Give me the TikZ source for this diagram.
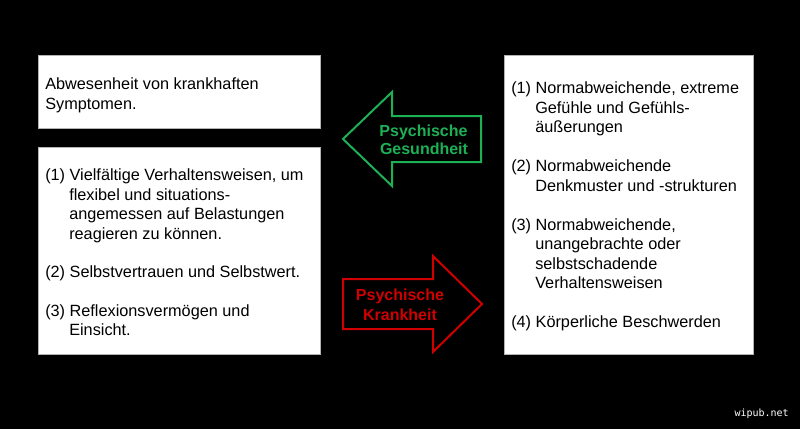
\documentclass[tikz,border=0pt]{standalone}
\usepackage{fontspec}
\setmainfont{Liberation Sans}
\newfontfamily\wmfont{DejaVu Sans Mono}
\definecolor{gruen}{HTML}{1DB055}
\definecolor{rot}{HTML}{D00000}
\begin{document}
\begin{tikzpicture}[x=0.75pt,y=-0.75pt,
  box/.style={draw=gray!60, line width=0.6pt, fill=white},
  txt/.style={anchor=base west, inner sep=0pt, font=\fontsize{12.2}{14.5}\selectfont},
  lbl/.style={anchor=base, inner sep=0pt, font=\fontsize{12}{14.5}\selectfont\bfseries},
  pfeil/.style={line width=1.5pt, fill=black, line join=miter},
  ]
\fill[black] (0,0) rectangle (800,429);
\useasboundingbox (0,0) rectangle (800,429);
% boxes
\draw[box] (38,55) rectangle (320,128);
\draw[box] (38,147) rectangle (320,354);
\draw[box] (504,55) rectangle (753,354);
% box 1
\node[txt] (a1) at (45,89) {Abwesenheit von krankhaften};
\node[txt] (a2) at (45,109) {Symptomen.};
% box 2
\node[txt] (b1) at (45,180.5) {(1) Vielfältige Verhaltensweisen, um};
\node[txt] (b2) at (69,200) {flexibel und situations-};
\node[txt] (b3) at (69,219.5) {angemessen auf Belastungen};
\node[txt] (b4) at (69,239) {reagieren zu können.};
\node[txt] (b5) at (45,277.5) {(2) Selbstvertrauen und Selbstwert.};
\node[txt] (b6) at (45,316) {(3) Reflexionsvermögen und};
\node[txt] (b7) at (69,335) {Einsicht.};
% box 3
\node[txt] (c1) at (511,93.5) {(1) Normabweichende, extreme};
\node[txt] (c2) at (535,113) {Gefühle und Gefühls-};
\node[txt] (c3) at (535,132.5) {äußerungen};
\node[txt] (c4) at (511,171.5) {(2) Normabweichende};
\node[txt] (c5) at (535,191) {Denkmuster und -strukturen};
\node[txt] (c6) at (511,230) {(3) Normabweichende,};
\node[txt] (c7) at (535,249.5) {unangebrachte oder};
\node[txt] (c8) at (535,269) {selbstschadende};
\node[txt] (c9) at (535,288.5) {Verhaltensweisen};
\node[txt] (c10) at (511,327) {(4) Körperliche Beschwerden};
% arrows
\draw[pfeil, draw=gruen] (343,139) -- (392,92) -- (392,116) -- (481,116) -- (481,162) -- (392,162) -- (392,186) -- cycle;
\draw[pfeil, draw=rot] (343,279) -- (433,279) -- (433,256) -- (482,304) -- (433,352) -- (433,329) -- (343,329) -- cycle;
\node[lbl, text=gruen] (g1) at (423.5,136) {Psychische};
\node[lbl, text=gruen] (g2) at (424,154.5) {Gesundheit};
\node[lbl, text=rot] (r1) at (400,300.5) {Psychische};
\node[lbl, text=rot] (r2) at (400,320) {Krankheit};
% watermark
\node[anchor=base east, inner sep=0pt, text=white, font=\wmfont\fontsize{7.5}{9}\selectfont] (wm) at (789,416) {wipub.net};
\end{tikzpicture}
\end{document}
